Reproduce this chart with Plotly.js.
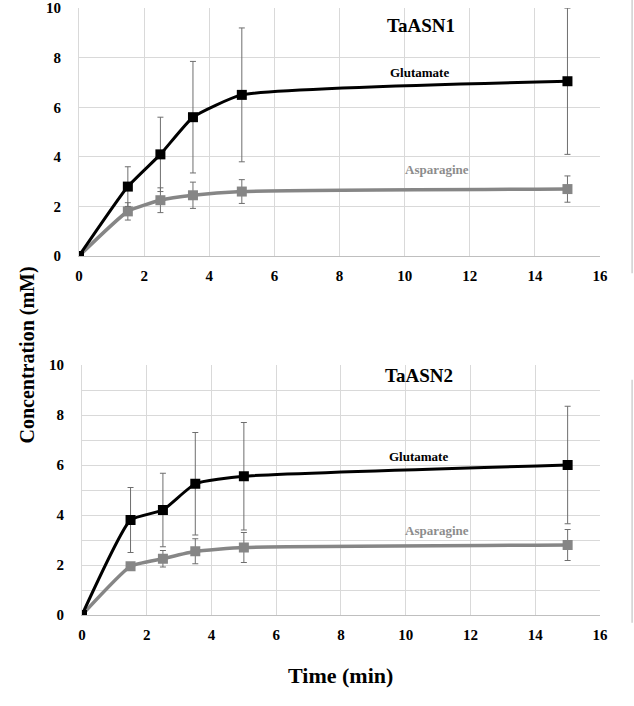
<!DOCTYPE html>
<html>
<head>
<meta charset="utf-8">
<script src="https://cdn.plot.ly/plotly-3.0.1.min.js"></script>
<style>
  body { margin: 0; background: #fff; }
  #chart { width: 634px; height: 706px; }
</style>
</head>
<body>
<div id="chart"></div>
<script>
// time points (min)
var timeMin = [0, 1.5, 2.5, 3.5, 5, 15];

// TaASN1
var asn1Glu = [0, 2.8, 4.1, 5.6, 6.5, 7.05];
var asn1GluErr = [0, 0.8, 1.5, 2.25, 2.7, 2.95];
var asn1Asn = [0, 1.8, 2.25, 2.45, 2.6, 2.7];
var asn1AsnErr = [0, 0.35, 0.5, 0.53, 0.48, 0.53];

// TaASN2
var asn2Glu = [0, 3.8, 4.2, 5.25, 5.55, 6.0];
var asn2GluErr = [0, 1.3, 1.47, 2.05, 2.15, 2.35];
var asn2Asn = [0, 1.95, 2.25, 2.55, 2.7, 2.8];
var asn2AsnErr = [0, 0.1, 0.33, 0.5, 0.6, 0.62];

// lower panel y ticks (only even values labelled)
var yTicks2 = [0, 1, 2, 3, 4, 5, 6, 7, 8, 9, 10];
var yText2 = ['0', '', '2', '', '4', '', '6', '', '8', '', '10'];

var serif = 'Liberation Serif, Times New Roman, serif';

function series(x, y, err, color, width, xa, ya) {
    return {
        type: 'scatter',
        mode: 'lines+markers',
        x: x,
        y: y,
        xaxis: xa,
        yaxis: ya,
        line: { color: color, width: width, shape: 'spline', smoothing: 0.45 },
        marker: { symbol: 'square', size: 10, color: color },
        error_y: { type: 'data', array: err, visible: true, color: '#6e6e6e', thickness: 1, width: 3 },
        hoverinfo: 'x+y',
        showlegend: false
    };
}

var data = [
    series(timeMin, asn1Asn, asn1AsnErr, '#868686', 3.5, 'x', 'y'),
    series(timeMin, asn1Glu, asn1GluErr, '#000000', 3, 'x', 'y'),
    series(timeMin, asn2Asn, asn2AsnErr, '#868686', 3.5, 'x2', 'y2'),
    series(timeMin, asn2Glu, asn2GluErr, '#000000', 3, 'x2', 'y2')
];

var tickFont = { family: serif, size: 15, color: '#000' };

function xAx(domain, anchor) {
    return {
        domain: domain, anchor: anchor,
        range: [0, 16], dtick: 2,
        showgrid: true, gridcolor: '#d9d9d9', gridwidth: 1,
        zeroline: false,
        showline: true, linecolor: '#bfbfbf', linewidth: 1,
        ticks: '', ticklabelstandoff: 6,
        tickprefix: '<b>', ticksuffix: '</b>',
        tickfont: tickFont
    };
}

var layout = {
    width: 634,
    height: 706,
    margin: { l: 0, r: 0, t: 0, b: 0 },
    paper_bgcolor: '#fff',
    plot_bgcolor: '#fff',
    xaxis: xAx([0.1246, 0.9464], 'y'),
    yaxis: {
        domain: [0.6374, 0.9885], anchor: 'x',
        range: [0, 10], dtick: 2,
        showgrid: true, gridcolor: '#d9d9d9',
        zeroline: false,
        showline: true, linecolor: '#d9d9d9', mirror: false,
        ticks: '', ticklabelstandoff: 14,
        tickprefix: '<b>', ticksuffix: '</b>',
        tickfont: tickFont
    },
    xaxis2: xAx([0.1293, 0.9464], 'y2'),
    yaxis2: {
        domain: [0.1289, 0.4830], anchor: 'x2',
        range: [0, 10],
        tickvals: yTicks2,
        ticktext: yText2.map(function (t) { return t ? '<b>' + t + '</b>' : ''; }),
        showgrid: true, gridcolor: '#d9d9d9',
        zeroline: false,
        showline: true, linecolor: '#d9d9d9',
        ticks: '', ticklabelstandoff: 14,
        tickfont: tickFont
    },
    shapes: [
        // blank band above the top grid line of the lower panel
        { type: 'rect', xref: 'x2 domain', yref: 'y2', x0: -0.01, x1: 1.01, y0: 9, y1: 10.05,
          fillcolor: '#fff', line: { width: 0 }, layer: 'below' },
        // faint edge lines on the right of the picture
        { type: 'line', xref: 'paper', yref: 'paper', x0: 0.997, x1: 0.997, y0: 0.613, y1: 1,
          line: { color: '#cfcfcf', width: 1.5 } },
        { type: 'line', xref: 'paper', yref: 'paper', x0: 0.997, x1: 0.997, y0: 0.118, y1: 0.462,
          line: { color: '#cfcfcf', width: 1.5 } }
    ],
    annotations: [
        { text: '<b>TaASN1</b>', xref: 'x', yref: 'y', x: 10.5, y: 9.3, showarrow: false,
          font: { family: serif, size: 19, color: '#000' } },
        { text: '<b>Glutamate</b>', xref: 'x', yref: 'y', x: 10.45, y: 7.4, showarrow: false,
          font: { family: serif, size: 13, color: '#000' } },
        { text: '<b>Asparagine</b>', xref: 'x', yref: 'y', x: 11.0, y: 3.48, showarrow: false,
          font: { family: serif, size: 13, color: '#8c8c8c' } },
        { text: '<b>TaASN2</b>', xref: 'x2', yref: 'y2', x: 10.4, y: 9.6, showarrow: false,
          font: { family: serif, size: 19, color: '#000' } },
        { text: '<b>Glutamate</b>', xref: 'x2', yref: 'y2', x: 10.4, y: 6.35, showarrow: false,
          font: { family: serif, size: 13, color: '#000' } },
        { text: '<b>Asparagine</b>', xref: 'x2', yref: 'y2', x: 10.95, y: 3.4, showarrow: false,
          font: { family: serif, size: 13, color: '#8c8c8c' } },
        { text: '<b>Concentration (mM)</b>', xref: 'paper', yref: 'paper', x: 0.022, y: 0.497,
          textangle: -90, showarrow: false, font: { family: serif, size: 20, color: '#000' } },
        { text: '<b>Time (min)</b>', xref: 'paper', yref: 'paper', x: 0.537, y: 0.023,
          showarrow: false, font: { family: serif, size: 22, color: '#000' } }
    ]
};

Plotly.newPlot('chart', data, layout, { displayModeBar: false, staticPlot: true });
</script>
</body>
</html>
